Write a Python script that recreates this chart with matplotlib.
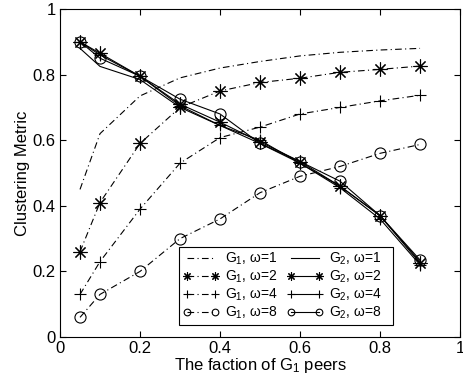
import numpy as np
import matplotlib
matplotlib.use('Agg')
import matplotlib.pyplot as plt

plt.rcParams['font.family'] = ['Liberation Sans', 'DejaVu Sans']
plt.rcParams['mathtext.fontset'] = 'custom'
plt.rcParams['mathtext.rm'] = 'Liberation Sans'
plt.rcParams['mathtext.it'] = 'Liberation Sans'

# fraction of G1 peers
frac = [0.05, 0.1, 0.2, 0.3, 0.4, 0.5, 0.6, 0.7, 0.8, 0.9]

# G1 curves (dash-dot)
g1_w1 = [0.45, 0.62, 0.735, 0.79, 0.82, 0.84, 0.857, 0.868, 0.875, 0.88]
g1_w2 = [0.26, 0.41, 0.59, 0.70, 0.75, 0.776, 0.789, 0.807, 0.816, 0.826]
g1_w4 = [0.13, 0.23, 0.39, 0.53, 0.608, 0.64, 0.68, 0.70, 0.72, 0.737]
g1_w8 = [0.06, 0.13, 0.20, 0.30, 0.36, 0.44, 0.49, 0.52, 0.56, 0.587]

# G2 curves (solid)
g2_w1 = [0.88, 0.825, 0.785, 0.70, 0.645, 0.59, 0.53, 0.46, 0.37, 0.23]
g2_w2 = [0.90, 0.865, 0.795, 0.71, 0.655, 0.595, 0.535, 0.46, 0.37, 0.225]
g2_w4 = [0.90, 0.86, 0.795, 0.705, 0.645, 0.60, 0.53, 0.455, 0.36, 0.22]
g2_w8 = [0.90, 0.85, 0.795, 0.725, 0.68, 0.59, 0.535, 0.475, 0.37, 0.235]

fig = plt.figure(figsize=(4.63, 3.83), dpi=100)
ax = fig.add_axes([0.1296, 0.12, 0.864, 0.8565])

dashdot = (0, (6, 3, 1, 3))
lw = 0.8
star = (8, 2, 0)  # matlab-like asterisk

h = {}
h['g1w1'], = ax.plot(frac, g1_w1, color='k', lw=lw, ls=dashdot, label=r'G$_1$, ω=1')
h['g2w1'], = ax.plot(frac, g2_w1, color='k', lw=lw, ls='-', label=r'G$_2$, ω=1')
h['g1w2'], = ax.plot(frac, g1_w2, color='k', lw=lw, ls=dashdot, marker=star, ms=10,
                     mew=0.8, label=r'G$_1$, ω=2')
h['g2w2'], = ax.plot(frac, g2_w2, color='k', lw=lw, ls='-', marker=star, ms=10,
                     mew=0.8, label=r'G$_2$, ω=2')
h['g1w4'], = ax.plot(frac, g1_w4, color='k', lw=lw, ls=dashdot, marker='+', ms=9,
                     mew=0.8, label=r'G$_1$, ω=4')
h['g2w4'], = ax.plot(frac, g2_w4, color='k', lw=lw, ls='-', marker='+', ms=9,
                     mew=0.8, label=r'G$_2$, ω=4')
h['g1w8'], = ax.plot(frac, g1_w8, color='k', lw=lw, ls=dashdot, marker='o', ms=8,
                     mfc='none', mew=0.8, label=r'G$_1$, ω=8')
h['g2w8'], = ax.plot(frac, g2_w8, color='k', lw=lw, ls='-', marker='o', ms=8,
                     mfc='none', mew=0.8, label=r'G$_2$, ω=8')

ax.set_xlim(0, 1)
ax.set_ylim(0, 1)
ax.set_xticks([0, 0.2, 0.4, 0.6, 0.8, 1])
ax.set_xticklabels(['0', '0.2', '0.4', '0.6', '0.8', '1'])
ax.set_yticks([0, 0.2, 0.4, 0.6, 0.8, 1])
ax.set_yticklabels(['0', '0.2', '0.4', '0.6', '0.8', '1'])
ax.tick_params(direction='in', top=True, right=True, labelsize=12, length=4, pad=3)
ax.set_xlabel(r'The faction of G$_1$ peers', fontsize=12, labelpad=0)
ax.set_ylabel('Clustering Metric', fontsize=12, labelpad=2)

order = ['g1w1', 'g1w2', 'g1w4', 'g1w8', 'g2w1', 'g2w2', 'g2w4', 'g2w8']
handles = [h[k] for k in order]
# matlab legends leave some blank room after the last column
labels = [x.get_label() + ('   ' if k.startswith('g2') else '')
          for k, x in zip(order, handles)]
leg = ax.legend(handles, labels, ncol=2,
                loc='lower right', bbox_to_anchor=(0.8325, 0.037), borderaxespad=0,
                fontsize=10, numpoints=2, handlelength=2.6, handletextpad=0.4,
                columnspacing=0.7, labelspacing=0.12, borderpad=0.25,
                fancybox=False, framealpha=1, edgecolor='k', markerscale=0.6)
leg.get_frame().set_linewidth(0.8)

fig.savefig('out.png', dpi=100)
